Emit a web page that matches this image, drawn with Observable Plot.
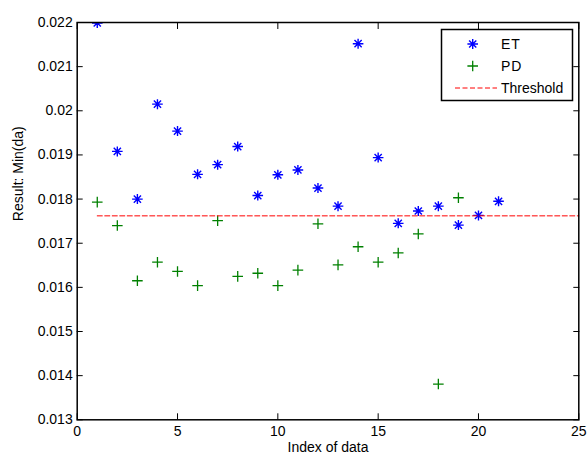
<!DOCTYPE html>
<html><head><meta charset="utf-8">
<script src="https://cdn.jsdelivr.net/npm/d3@7"></script>
<script src="https://cdn.jsdelivr.net/npm/@observablehq/plot@0.6"></script>
<style>
body{margin:0;background:#fff;}
#chart{position:relative;width:587px;height:456px;overflow:hidden;}
</style>
</head><body><div id="chart"></div>
<script>
// ---- data ----
const etIndex = [1,2,3,4,5,6,7,8,9,10,11,12,13,14,15,16,17,18,19,20,21];
const etValues = [0.02199,0.01908,0.01800,0.02015,0.01954,0.01856,0.01878,0.01919,0.01808,0.01855,0.01866,0.01825,0.01784,0.02152,0.01894,0.01745,0.01773,0.01784,0.01741,0.01763,0.01795];
const pdIndex = [1,2,3,4,5,6,7,8,9,10,11,12,13,14,15,16,17,18,19];
const pdValues = [0.01793,0.01740,0.01615,0.01657,0.01636,0.01604,0.01751,0.01625,0.01632,0.01604,0.01639,0.01744,0.01651,0.01692,0.01657,0.01678,0.01721,0.01381,0.01803];
const thresholdIndex = [1,25];
const thresholdValue = 0.01762;
const xTicks = [0,5,10,15,20,25];
const yTicks = [0.013,0.014,0.015,0.016,0.017,0.018,0.019,0.020,0.021,0.022];
const seriesNames = ["ET","PD","Threshold"];
const xLabel = "Index of data";
const yLabel = "Result: Min(da)";

// ---- marker shapes ----
const asterisk = {draw(ctx){
  const a=5.3, v=5, b=3.6;
  ctx.moveTo(-a,0); ctx.lineTo(a,0);
  ctx.moveTo(0,-v); ctx.lineTo(0,v);
  ctx.moveTo(-b,-b); ctx.lineTo(b,b);
  ctx.moveTo(-b,b); ctx.lineTo(b,-b);
}};
const plus = {draw(ctx){
  const a=5.3;
  ctx.moveTo(-a,0); ctx.lineTo(a,0);
  ctx.moveTo(0,-a); ctx.lineTo(0,a);
}};

const etData = etIndex.map((x,i)=>({x, y: etValues[i]}));
const pdData = pdIndex.map((x,i)=>({x, y: pdValues[i]}));
const thData = thresholdIndex.map(x=>({x, y: thresholdValue}));

const font = "'Liberation Sans', Arial, Helvetica, sans-serif";
const noLabel = () => "";

const plot = Plot.plot({
  width: 587, height: 456,
  marginLeft: 76.7, marginRight: 8.7, marginTop: 22, marginBottom: 36.7,
  style: {fontFamily: font, fontSize: "14px", background: "white", color: "black", overflow: "visible"},
  x: {domain: [0,25]},
  y: {domain: [0.013,0.022]},
  marks: [
    Plot.dot(etData, {x:"x", y:"y", symbol: asterisk, r: 5, fill: "none", stroke: "#0000ff", strokeWidth: 1.4, clip: true}),
    Plot.dot(pdData, {x:"x", y:"y", symbol: plus, r: 5, fill: "none", stroke: "#008000", strokeWidth: 1.3}),
    Plot.line(thData, {x:"x", y:"y", stroke: "#ff0000", strokeWidth: 1, strokeDasharray: "5,2.5"}),
    Plot.axisX({anchor:"bottom", ticks: xTicks, tickSize: 0, tickPadding: 6.5, tickFormat: d=>String(d), label: null}),
    Plot.axisX({anchor:"bottom", ticks: xTicks, tickSize: 6, dy: -6, tickFormat: noLabel, label: null}),
    Plot.axisX({anchor:"top", ticks: xTicks, tickSize: 6, dy: 6, tickFormat: noLabel, label: null}),
    Plot.axisY({anchor:"left", ticks: yTicks, tickSize: 0, tickPadding: 4.5, tickFormat: d=>String(+d.toFixed(3)), label: null}),
    Plot.axisY({anchor:"left", ticks: yTicks, tickSize: 6, dx: 6, tickFormat: noLabel, label: null}),
    Plot.axisY({anchor:"right", ticks: yTicks, tickSize: 6, dx: -6, tickFormat: noLabel, label: null}),
    Plot.frame({stroke: "black", strokeWidth: 1.5}),
    Plot.text([xLabel], {frameAnchor: "bottom", dy: 31.7, text: d=>d, fontSize: 14}),
    Plot.text([yLabel], {frameAnchor: "left", dx: -59, rotate: -90, text: d=>d, fontSize: 14})
  ]
});
document.getElementById("chart").appendChild(plot);

// ---- legend ----
function shapePath(sym){ const p = d3.path(); sym.draw(p); return p.toString(); }
const svg = d3.select(plot);
const lg = svg.append("g").attr("font-family", font).attr("font-size", 14).attr("text-anchor", "start");
lg.append("rect").attr("x",441.5).attr("y",29.5).attr("width",131).attr("height",71)
  .attr("fill","white").attr("stroke","black").attr("stroke-width",1.5);
const rows = [44, 66, 88];
lg.append("path").attr("d", shapePath(asterisk)).attr("transform",`translate(472.7,${rows[0]})`)
  .attr("fill","none").attr("stroke","#0000ff").attr("stroke-width",1.4);
lg.append("path").attr("d", shapePath(plus)).attr("transform",`translate(472.7,${rows[1]})`)
  .attr("fill","none").attr("stroke","#008000").attr("stroke-width",1.3);
lg.append("line").attr("x1",455).attr("x2",497).attr("y1",rows[2]).attr("y2",rows[2])
  .attr("stroke","#ff0000").attr("stroke-width",1).attr("stroke-dasharray","5,2.5");
seriesNames.forEach((n,i)=>{
  lg.append("text").attr("x",501).attr("y",rows[i]).attr("dy","0.35em").attr("fill","black")
    .attr("text-anchor","start")
    .attr("letter-spacing", i<2 ? "1px" : "0px").text(n);
});
</script>
</body></html>
